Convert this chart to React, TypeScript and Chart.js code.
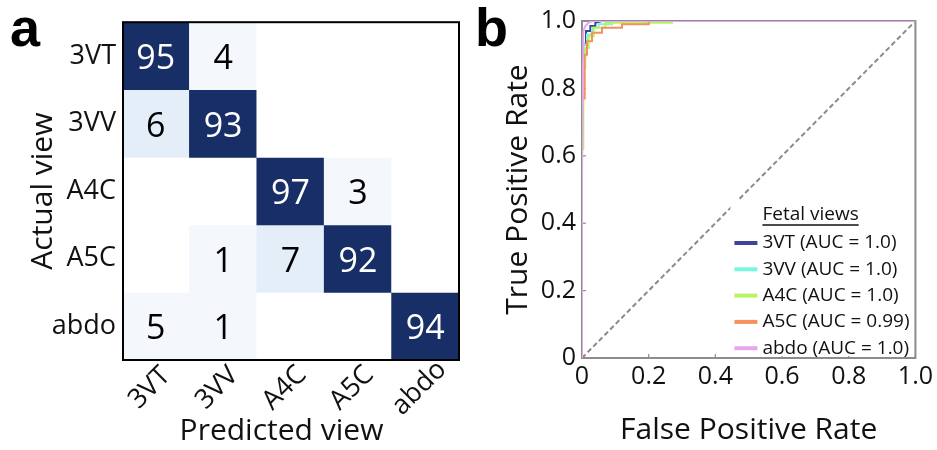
import React, { useEffect, useRef } from 'react';
import { Chart, registerables } from 'chart.js';

Chart.register(...registerables);

// ---------- Panel a: confusion matrix ----------
const predictedViews = ['3VT', '3VV', 'A4C', 'A5C', 'abdo'];
const actualViews = ['3VT', '3VV', 'A4C', 'A5C', 'abdo'];
const row3VT = [95, 4, 0, 0, 0];
const row3VV = [6, 93, 0, 0, 0];
const rowA4C = [0, 0, 97, 3, 0];
const rowA5C = [0, 1, 7, 92, 0];
const rowAbdo = [5, 1, 0, 0, 94];
const confusionRows = [row3VT, row3VV, rowA4C, rowA5C, rowAbdo];
const xAxisTitleA = 'Predicted view';
const yAxisTitleA = 'Actual view';

// ---------- Panel b: ROC curves ----------
const rocClasses = ['3VT', '3VV', 'A4C', 'A5C', 'abdo'];
const rocAuc = ['1.0', '1.0', '1.0', '0.99', '1.0'];
const fpr3VT = [0, 0, 0.004, 0.004, 0.012, 0.012, 0.025, 0.025, 0.04, 0.04, 0.06, 1];
const tpr3VT = [0, 0.86, 0.86, 0.93, 0.93, 0.97, 0.97, 0.985, 0.985, 0.995, 1, 1];
const fpr3VV = [0, 0, 0.006, 0.006, 0.015, 0.015, 0.03, 0.03, 0.05, 0.05, 0.09, 0.09, 1];
const tpr3VV = [0, 0.88, 0.88, 0.93, 0.93, 0.96, 0.96, 0.98, 0.98, 0.99, 0.99, 1, 1];
const fprA4C = [0, 0, 0.004, 0.004, 0.01, 0.01, 0.02, 0.02, 0.035, 0.035, 0.07, 0.07, 0.27, 0.27, 1];
const tprA4C = [0, 0.62, 0.62, 0.86, 0.86, 0.92, 0.92, 0.955, 0.955, 0.98, 0.98, 0.995, 0.995, 1, 1];
const fprA5C = [0, 0, 0.008, 0.008, 0.015, 0.015, 0.03, 0.03, 0.06, 0.06, 0.12, 0.12, 0.2, 0.2, 1];
const tprA5C = [0, 0.77, 0.77, 0.9, 0.9, 0.94, 0.94, 0.965, 0.965, 0.98, 0.98, 0.99, 0.99, 1, 1];
const fprAbdo = [0, 0, 0.004, 0.01, 0.02, 0.03, 1];
const tprAbdo = [0, 0.53, 0.97, 0.985, 0.995, 1, 1];
const rocFpr = [fpr3VT, fpr3VV, fprA4C, fprA5C, fprAbdo];
const rocTpr = [tpr3VT, tpr3VV, tprA4C, tprA5C, tprAbdo];
const rateTicks = [0, 0.2, 0.4, 0.6, 0.8, 1.0];

const FONT = "'Open Sans', 'Noto Sans', sans-serif";
const TEXT = '#111111';
const rocColors = ['#3c4599', '#7af5df', '#b7f45e', '#f4915c', '#e8a6ee'];

const cellColor = (v: number) =>
  v === 0 ? '#ffffff' : v < 6 ? '#f4f8fd' : v < 50 ? '#e3eef8' : '#172f66';

const rateLabel = (v: any) => (Number(v) === 0 ? '0' : Number(v).toFixed(1));

const cellTextPlugin = {
  id: 'cellText',
  afterDatasetsDraw(chart: any) {
    const ctx = chart.ctx;
    ctx.save();
    ctx.font = `34px ${FONT}`;
    ctx.textAlign = 'center';
    ctx.textBaseline = 'alphabetic';
    confusionRows.forEach((row, r) => {
      const meta = chart.getDatasetMeta(r);
      row.forEach((v, c) => {
        if (!v) return;
        const el = meta.data[c];
        const cy = (el.y + el.base) / 2;
        ctx.fillStyle = v > 50 ? '#ffffff' : '#000000';
        ctx.fillText(String(v), el.x, cy + 13);
      });
    });
    // frame
    const a = chart.chartArea;
    ctx.strokeStyle = '#000000';
    ctx.lineWidth = 2;
    ctx.strokeRect(a.left + 1, a.top, a.right - a.left - 1, a.bottom - a.top);

    // rotated category labels, placed from the x scale's tick positions
    const xs = chart.scales.x;
    ctx.fillStyle = TEXT;
    ctx.font = `27px ${FONT}`;
    ctx.textAlign = 'center';
    ctx.textBaseline = 'middle';
    predictedViews.forEach((label, i) => {
      const px = xs.getPixelForTick(i);
      ctx.save();
      ctx.translate(px - 6, a.bottom + 28);
      ctx.rotate(-Math.PI / 4);
      ctx.fillText(label, 0, 0);
      ctx.restore();
    });
    // axis title
    ctx.font = `30px ${FONT}`;
    ctx.textAlign = 'center';
    ctx.textBaseline = 'alphabetic';
    ctx.fillText(xAxisTitleA, (a.left + a.right) / 2 - 9, a.bottom + 80);
    ctx.restore();
  },
};

const rocFramePlugin = {
  id: 'rocFrame',
  beforeDatasetsDraw(chart: any) {
    const ctx = chart.ctx;
    const a = chart.chartArea;
    ctx.save();
    ctx.strokeStyle = '#8c8c8c';
    ctx.lineWidth = 2;
    ctx.strokeRect(a.left, a.top, a.right - a.left, a.bottom - a.top);
    ctx.lineWidth = 1.2;
    const xs = chart.scales.x;
    const ys = chart.scales.y;
    rateTicks.forEach((t) => {
      const px = xs.getPixelForValue(t);
      ctx.beginPath();
      ctx.moveTo(px, a.bottom);
      ctx.lineTo(px, a.bottom - 4);
      ctx.stroke();
      const py = ys.getPixelForValue(t);
      ctx.beginPath();
      ctx.moveTo(a.left, py);
      ctx.lineTo(a.left + 4, py);
      ctx.stroke();
    });
    ctx.restore();
  },
};

const rocLegendPlugin = {
  id: 'rocLegend',
  afterDraw(chart: any) {
    const ctx = chart.ctx;
    const a = chart.chartArea;
    ctx.save();
    ctx.fillStyle = '#ffffff';
    ctx.fillRect(a.right - 185, a.bottom - 158, 183, 156);
    const swX = a.right - 181;
    const txX = a.right - 153;
    ctx.font = `19px ${FONT}`;
    ctx.textBaseline = 'middle';
    ctx.textAlign = 'left';
    ctx.fillStyle = TEXT;
    const title = 'Fetal views';
    const ty = a.bottom - 143;
    ctx.fillText(title, txX, ty);
    const w = ctx.measureText(title).width;
    ctx.strokeStyle = TEXT;
    ctx.lineWidth = 1.3;
    ctx.beginPath();
    ctx.moveTo(txX, ty + 10);
    ctx.lineTo(txX + w, ty + 10);
    ctx.stroke();
    rocClasses.forEach((_, i) => {
      const ds = chart.data.datasets[i];
      const y = a.bottom - 115 + 26.3 * i;
      ctx.strokeStyle = ds.borderColor;
      ctx.lineWidth = 4;
      ctx.beginPath();
      ctx.moveTo(swX, y);
      ctx.lineTo(swX + 23, y);
      ctx.stroke();
      ctx.fillStyle = TEXT;
      ctx.fillText(ds.label, txX, y);
    });
    ctx.restore();
  },
};

export default function App() {
  const refA = useRef<HTMLCanvasElement>(null);
  const refB = useRef<HTMLCanvasElement>(null);

  useEffect(() => {
    Chart.defaults.font.family = FONT;
    const chartA = new Chart(refA.current as HTMLCanvasElement, {
      type: 'bar',
      data: {
        labels: predictedViews,
        datasets: confusionRows.map((row, r) => ({
          label: actualViews[r],
          data: row.map(() => [r - 0.5, r + 0.5]),
          backgroundColor: row.map(cellColor),
          borderWidth: 0,
          barPercentage: 1,
          categoryPercentage: 1,
          grouped: false,
        })) as any,
      },
      options: {
        responsive: false,
        animation: false,
        devicePixelRatio: 1,
        layout: { padding: { top: 14, right: 21, left: 0, bottom: 0 } },
        plugins: { legend: { display: false }, tooltip: { enabled: false } },
        scales: {
          x: {
            grid: { display: false, drawTicks: false },
            border: { display: false },
            ticks: { display: false },
            title: { display: false },
            afterFit: (s: any) => {
              s.height = 90;
            },
          },
          y: {
            type: 'linear',
            min: -0.5,
            max: 4.5,
            reverse: true,
            afterBuildTicks: (s: any) => {
              s.ticks = actualViews.map((_, i) => ({ value: i }));
            },
            grid: { display: false, drawTicks: false },
            border: { display: false },
            ticks: {
              font: { family: FONT, size: 27 },
              color: TEXT,
              padding: 6,
              callback: (_v: any, i: number) => actualViews[i] ?? '',
            },
            title: {
              display: true,
              text: yAxisTitleA,
              font: { family: FONT, size: 30 },
              color: TEXT,
              padding: { top: 25, bottom: 0 },
            },
            afterFit: (s: any) => {
              s.width = 122;
            },
          },
        },
      } as any,
      plugins: [cellTextPlugin],
    });

    const rocSets = rocClasses.map((name, i) => ({
      label: `${name} (AUC = ${rocAuc[i]})`,
      data: rocFpr[i].map((x, j) => ({ x, y: rocTpr[i][j] })),
      borderColor: rocColors[i],
      backgroundColor: rocColors[i],
      borderWidth: 2,
      pointRadius: 0,
      showLine: true,
      fill: false,
      order: 5 - i,
    }));
    const chartB = new Chart(refB.current as HTMLCanvasElement, {
      type: 'scatter',
      data: {
        datasets: [
          ...rocSets,
          {
            label: 'chance',
            data: [
              { x: 0, y: 0 },
              { x: 1, y: 1 },
            ],
            borderColor: '#8a8a8a',
            borderWidth: 2,
            borderDash: [5, 3],
            pointRadius: 0,
            showLine: true,
            order: 10,
          },
        ] as any,
      },
      options: {
        responsive: false,
        animation: false,
        devicePixelRatio: 1,
        layout: { padding: { top: 16, right: 14, left: 0, bottom: 0 } },
        plugins: { legend: { display: false }, tooltip: { enabled: false } },
        scales: {
          x: {
            type: 'linear',
            min: 0,
            max: 1,
            afterBuildTicks: (s: any) => {
              s.ticks = rateTicks.map((v) => ({ value: v }));
            },
            grid: { display: false, drawTicks: false },
            border: { display: false },
            ticks: {
              font: { family: FONT, size: 25 },
              color: TEXT,
              padding: 4,
              maxRotation: 0,
              callback: rateLabel,
            },
            title: {
              display: true,
              text: 'False Positive Rate',
              font: { family: FONT, size: 30 },
              color: TEXT,
              padding: { top: 0, bottom: 2 },
            },
            afterFit: (s: any) => {
              s.height = 92;
            },
          },
          y: {
            type: 'linear',
            min: 0,
            max: 1,
            afterBuildTicks: (s: any) => {
              s.ticks = rateTicks.map((v) => ({ value: v }));
            },
            grid: { display: false, drawTicks: false },
            border: { display: false },
            ticks: {
              font: { family: FONT, size: 25 },
              color: TEXT,
              padding: 6,
              callback: rateLabel,
            },
            title: {
              display: true,
              text: 'True Positive Rate',
              font: { family: FONT, size: 30 },
              color: TEXT,
              padding: { top: 20, bottom: 0 },
            },
            afterFit: (s: any) => {
              s.width = 102;
            },
          },
        },
      } as any,
      plugins: [rocFramePlugin, rocLegendPlugin],
    });

    return () => {
      chartA.destroy();
      chartB.destroy();
    };
  }, []);

  const panelLabel: React.CSSProperties = {
    position: 'absolute',
    top: 0,
    font: "bold 54px 'Liberation Sans', Arial, sans-serif",
    lineHeight: '54px',
    color: '#000',
  };

  return (
    <div style={{ position: 'absolute', left: 0, top: 0, width: 937, height: 450, background: '#fff' }}>
      <canvas
        ref={refA}
        width={480}
        height={450}
        style={{ position: 'absolute', left: 0, top: 0, width: 480, height: 450 }}
      />
      <canvas
        ref={refB}
        width={457}
        height={450}
        style={{ position: 'absolute', left: 480, top: 0, width: 457, height: 450 }}
      />
      <div style={{ ...panelLabel, left: 10 }}>a</div>
      <div style={{ ...panelLabel, left: 475 }}>b</div>
    </div>
  );
}
